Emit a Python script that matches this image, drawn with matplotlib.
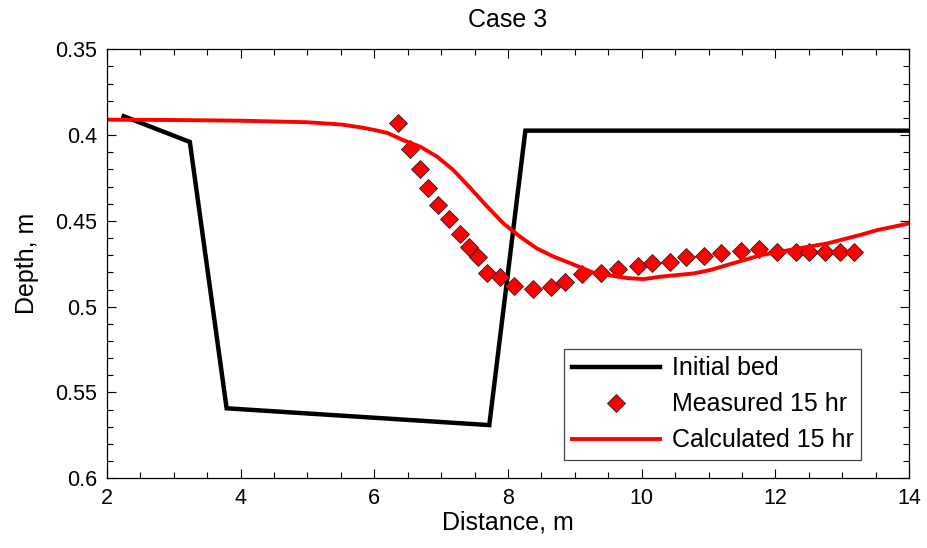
import matplotlib
matplotlib.use("Agg")
import matplotlib.pyplot as plt
from matplotlib.ticker import MultipleLocator

plt.rcParams['font.family'] = ['Liberation Sans', 'DejaVu Sans']

# Initial bed
bed_x = [2.25, 3.24, 3.79, 7.72, 8.26, 14.0]
bed_y = [0.389, 0.404, 0.5592, 0.569, 0.3974, 0.3974]

# Measured 15 hr
meas_x = [6.35, 6.53, 6.69, 6.81, 6.95, 7.11, 7.28, 7.41, 7.55, 7.69, 7.88, 8.09,
          8.38, 8.65, 8.85, 9.11, 9.39, 9.64, 9.94, 10.15, 10.42, 10.67, 10.94,
          11.19, 11.48, 11.76, 12.03, 12.31, 12.51, 12.75, 12.96, 13.17]
meas_y = [0.3932, 0.4083, 0.4198, 0.4310, 0.4407, 0.4491, 0.4576, 0.4654, 0.4712,
          0.4802, 0.4825, 0.4878, 0.4899, 0.4887, 0.4854, 0.4810, 0.4806, 0.4782,
          0.4763, 0.4747, 0.4738, 0.4712, 0.4705, 0.4689, 0.4675, 0.4664, 0.4679,
          0.4679, 0.4679, 0.4683, 0.4683, 0.4683]

# Calculated 15 hr
calc_x = [2.0, 3.0, 4.0, 5.0, 5.5, 5.8, 6.0, 6.2, 6.43, 6.69, 6.94, 7.18, 7.44, 7.69,
          7.93, 8.18, 8.43, 8.68, 8.93, 9.28, 9.78, 10.03, 10.28, 10.78, 11.03,
          11.28, 11.78, 12.28, 12.78, 13.27, 13.53, 14.0]
calc_y = [0.391, 0.3912, 0.3916, 0.3925, 0.3938, 0.3955, 0.397, 0.3988, 0.4029, 0.4068,
          0.4126, 0.4203, 0.431, 0.4417, 0.4514, 0.4592, 0.466, 0.4708, 0.4746,
          0.4802, 0.4833, 0.4839, 0.4825, 0.4806, 0.4786, 0.4757, 0.470, 0.4665,
          0.4631, 0.4582, 0.4553, 0.4515]

fig = plt.figure(figsize=(9.27, 5.48), dpi=100)
ax = fig.add_axes([0.1154, 0.1272, 0.8652, 0.7828])

ax.plot(bed_x, bed_y, color='black', lw=3.2, label='Initial bed', solid_joinstyle='miter')
ax.plot(meas_x, meas_y, linestyle='none', marker='D', ms=9, mfc='red',
        mec='#222222', mew=0.6, label='Measured 15 hr')
ax.plot(calc_x, calc_y, color='red', lw=2.8, label='Calculated 15 hr')

ax.set_xlim(2, 14)
ax.set_ylim(0.6, 0.35)
ax.xaxis.set_major_locator(MultipleLocator(2))
ax.xaxis.set_minor_locator(MultipleLocator(0.5))
ax.yaxis.set_minor_locator(MultipleLocator(0.01))
ax.set_yticks([0.35, 0.4, 0.45, 0.5, 0.55, 0.6])
ax.set_yticklabels(['0.35', '0.4', '0.45', '0.5', '0.55', '0.6'])
ax.tick_params(which='both', direction='in', top=True, right=True, labelsize=15.5,
               width=0.8)
ax.tick_params(axis='y', pad=7)
ax.tick_params(axis='x', pad=7)
ax.tick_params(which='major', length=6.5)
ax.tick_params(which='minor', length=4)
for s in ax.spines.values():
    s.set_linewidth(0.9)

ax.set_xlabel('Distance, m', fontsize=18, labelpad=1)
ax.set_ylabel('Depth, m', fontsize=18, labelpad=12)
ax.set_title('Case 3', fontsize=18, pad=16)

leg = ax.legend(loc='lower right', bbox_to_anchor=(0.94, 0.043), fontsize=18,
                fancybox=False, framealpha=1, edgecolor='#444444',
                handlelength=3.55, borderpad=0.3, labelspacing=0.48,
                handletextpad=0.45, borderaxespad=0)
leg.get_frame().set_linewidth(0.9)

fig.savefig('out.png', dpi=100)
